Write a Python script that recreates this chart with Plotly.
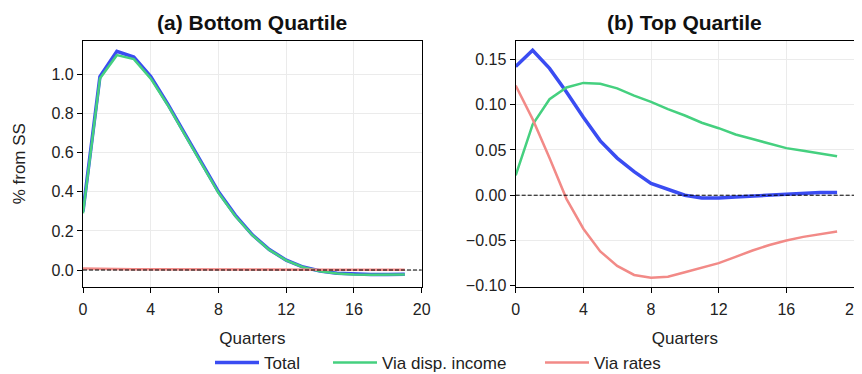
import plotly.graph_objects as go

quarters = list(range(20))

bottom_total = [0.30, 0.99, 1.12, 1.09, 0.99, 0.85, 0.70, 0.55, 0.40, 0.28, 0.18, 0.105,
                0.05, 0.015, -0.005, -0.017, -0.022, -0.023, -0.023, -0.022]
bottom_disp = [0.29, 0.98, 1.10, 1.08, 0.98, 0.845, 0.695, 0.545, 0.395, 0.275, 0.178, 0.103,
               0.049, 0.014, -0.006, -0.018, -0.023, -0.024, -0.024, -0.023]
bottom_rates = [0.008, 0.006, 0.005, 0.004, 0.004, 0.003, 0.003, 0.003, 0.002, 0.002, 0.002,
                0.002, 0.001, 0.001, 0.001, 0.001, 0.001, 0.001, 0.001, 0.001]

top_total = [0.142, 0.160, 0.140, 0.114, 0.086, 0.060, 0.041, 0.026, 0.013, 0.006, 0.0,
             -0.003, -0.003, -0.002, -0.001, 0.0, 0.001, 0.002, 0.003, 0.003]
top_disp = [0.022, 0.078, 0.106, 0.119, 0.124, 0.123, 0.118, 0.110, 0.103, 0.095, 0.088,
            0.080, 0.074, 0.067, 0.062, 0.057, 0.052, 0.049, 0.046, 0.043]
top_rates = [0.121, 0.084, 0.041, -0.004, -0.037, -0.062, -0.078, -0.088, -0.091, -0.090,
             -0.085, -0.080, -0.075, -0.068, -0.061, -0.055, -0.050, -0.046, -0.043, -0.040]

titles = ["(a) Bottom Quartile", "(b) Top Quartile"]
series_names = ["Total", "Via disp. income", "Via rates"]
x_ticks = [0, 4, 8, 12, 16, 20]
y_ticks_bottom = [0.0, 0.2, 0.4, 0.6, 0.8, 1.0]
y_ticks_top = [-0.10, -0.05, 0.00, 0.05, 0.10, 0.15]

C_BLUE = "#3a4cf2"
C_GREEN = "#45d07f"
C_RED = "#f28a87"
FONT = "Liberation Sans, Arial, sans-serif"
FS_TICK = 16
FS_LAB = 17
FS_TITLE = 21

W, H = 862, 374
OFF = 8  # page body margin: rendered = figure coordinate + 8


def px_x(p):
    return (p - OFF) / W


def px_y(p):
    return 1 - (p - OFF) / H


fig = go.Figure()


def add_panel(xa, ya, total, disp, rates, show):
    fig.add_trace(go.Scatter(x=quarters, y=total, mode="lines", name=series_names[0],
                             line=dict(color=C_BLUE, width=3.5), xaxis=xa, yaxis=ya,
                             showlegend=show, legend="legend"))
    fig.add_trace(go.Scatter(x=quarters, y=disp, mode="lines", name=series_names[1],
                             line=dict(color=C_GREEN, width=2.5), xaxis=xa, yaxis=ya,
                             showlegend=show, legend="legend2"))
    fig.add_trace(go.Scatter(x=quarters, y=rates, mode="lines", name=series_names[2],
                             line=dict(color=C_RED, width=2.5), xaxis=xa, yaxis=ya,
                             showlegend=show, legend="legend3"))


add_panel("x", "y", bottom_total, bottom_disp, bottom_rates, True)
add_panel("x2", "y2", top_total, top_disp, top_rates, False)

for xr, yr in (("x", "y"), ("x2", "y2")):
    fig.add_shape(type="line", xref=f"{xr} domain", yref=yr, x0=0, x1=1, y0=0, y1=0,
                  line=dict(color="black", width=1, dash="4px,2px"), layer="above")

axis_common = dict(showline=True, mirror=True, linecolor="black", linewidth=1.3,
                   ticks="outside", ticklen=5, tickwidth=1, tickcolor="black",
                   showgrid=True, gridcolor="#ebebeb", gridwidth=1, zeroline=False,
                   automargin=False, ticklabeloverflow="allow",
                   tickfont=dict(family=FONT, size=FS_TICK, color="#222"))

y_top = px_y(40.7)
y_bot = px_y(286.7)

legend_common = dict(y=px_y(363), xanchor="left", yanchor="middle", orientation="h",
                     itemwidth=44, bgcolor="rgba(0,0,0,0)",
                     font=dict(family=FONT, size=FS_LAB, color="#222"))

fig.update_layout(
    width=W, height=H,
    margin=dict(l=0, r=0, t=0, b=0),
    paper_bgcolor="white", plot_bgcolor="white",
    font=dict(family=FONT, size=FS_TICK, color="#222"),
    xaxis=dict(domain=[px_x(83), px_x(421.7)], anchor="y", range=[0, 20], tickvals=x_ticks,
               ticklabelstandoff=3,
               title=dict(text="Quarters", standoff=15, font=dict(size=FS_LAB)), **axis_common),
    yaxis=dict(domain=[y_bot, y_top], anchor="x", range=[-0.0855, 1.174],
               tickvals=y_ticks_bottom, tickformat=".1f",
               title=dict(text="% from SS", standoff=21, font=dict(size=FS_LAB)), **axis_common),
    xaxis2=dict(domain=[px_x(515.7), px_x(854)], anchor="y2", range=[0, 20], tickvals=x_ticks,
                ticklabelstandoff=3,
                title=dict(text="Quarters", standoff=15, font=dict(size=FS_LAB)), **axis_common),
    yaxis2=dict(domain=[y_bot, y_top], anchor="x2", range=[-0.101, 0.1706],
                tickvals=y_ticks_top, tickformat=".2f", **axis_common),
    legend=dict(x=px_x(210), **legend_common),
    legend2=dict(x=px_x(328), **legend_common),
    legend3=dict(x=px_x(540), **legend_common),
    annotations=[
        dict(text=f"<b>{titles[0]}</b>", x=px_x((83 + 421.7) / 2), y=px_y(22),
             xref="paper", yref="paper", showarrow=False, xanchor="center", yanchor="middle",
             font=dict(family=FONT, size=FS_TITLE, color="#111")),
        dict(text=f"<b>{titles[1]}</b>", x=px_x((515.7 + 854) / 2), y=px_y(22),
             xref="paper", yref="paper", showarrow=False, xanchor="center", yanchor="middle",
             font=dict(family=FONT, size=FS_TITLE, color="#111")),
    ],
)

fig.write_html("out.html", config={"displayModeBar": False})
